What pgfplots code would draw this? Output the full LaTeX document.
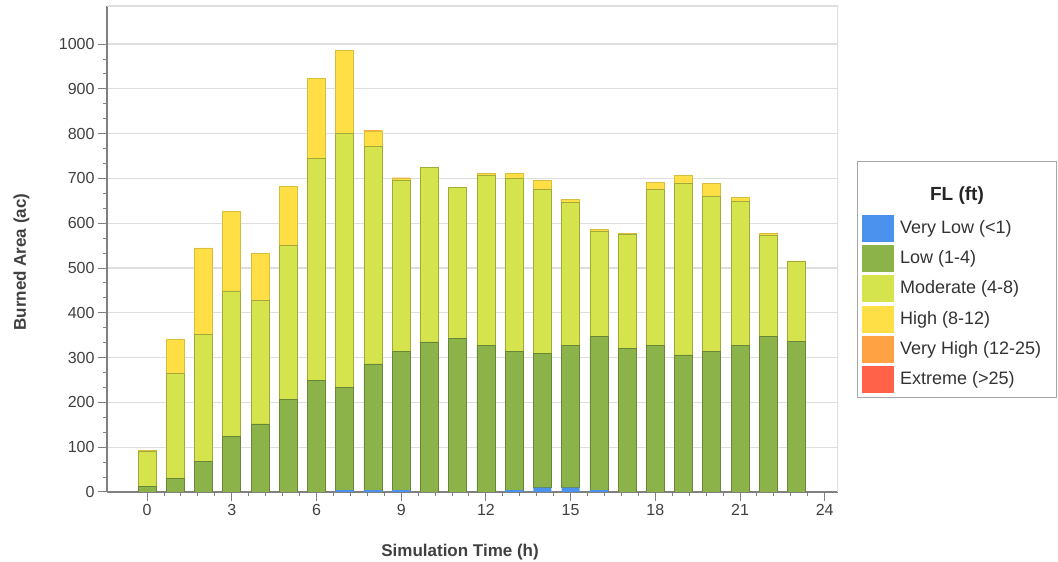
\documentclass[border=0pt]{standalone}
\usepackage{pgfplots}
\usepackage{pgfplotstable}
\pgfplotsset{compat=1.18}
\usepackage{fontspec}
\setmainfont{Liberation Sans}
\definecolor{cVL}{HTML}{4A92EE}
\definecolor{cL}{HTML}{8CB24A}
\definecolor{cM}{HTML}{D5E34C}
\definecolor{cH}{HTML}{FFDF45}
\definecolor{cVH}{HTML}{FFA243}
\definecolor{cEX}{HTML}{FF6248}
\pgfplotstableread{
t VL L M H VH EX
0 0 12 79 2 0 0
1 0 31 234 76 0 0
2 0 69 283 193 0 0
3 0 125 324 178 0 0
4 0 152 275 106 0 0
5 0 207 344 132 0 0
6 0 250 494 180 0 0
7 4 230 566 185 0 0
8 4 282 486 34 2 0
9 4 309 383 4 2 0
10 0 335 390 0 0 0
11 0 343 337 0 0 0
12 0 328 378 5 0 0
13 4 309 388 10 0 0
14 10 300 366 19 0 0
15 10 318 319 7 0 0
16 4 343 236 4 0 0
17 0 321 254 3 0 0
18 0 328 348 16 0 0
19 0 306 383 18 0 0
20 0 313 348 28 0 0
21 0 328 322 8 0 0
22 0 347 227 4 0 0
23 0 336 178 2 0 0
}\data
\begin{document}
\begin{tikzpicture}[x=1pt,y=1pt]
\path[use as bounding box] (-107,-70) rectangle (951,492);
\begin{axis}[at={(0,0)}, anchor=south west, scale only axis,
  width=731pt, height=486pt,
  xmin=-1.42, xmax=24.47, ymin=0, ymax=1085, enlargelimits=false,
  xtick={0,3,...,24}, minor x tick num=4,
  ytick={0,100,...,1000}, minor y tick num=2,
  axis x line*=bottom, axis y line*=left,
  axis line style={-, black!50, line width=1.2pt},
  tick align=outside, major tick length=9pt, minor tick length=4pt,
  every tick/.style={black!50, line width=1pt},
  ymajorgrids, grid style={black!13, line width=1.2pt},
  ticklabel style={font=\fontsize{16}{19}\selectfont, text=black!75},
  /pgf/number format/assume math mode=true,
  /pgf/number format/set thousands separator={},
  xlabel={\textbf{Simulation Time (h)}},
  ylabel={\textbf{Burned Area (ac)}},
  xlabel style={font=\fontsize{17}{20}\selectfont, text=black!75, at={(axis description cs:0.483,-0.124)}, anchor=center},
  ylabel style={font=\fontsize{17}{20}\selectfont, text=black!75, at={(axis description cs:-0.117,0.473)}, anchor=center},
  ybar stacked, bar width=18pt,
]
\addplot[fill=cVL, draw=none] table[x=t, y=VL] {\data};
\addplot[fill=cL, draw=cL!75!black, line width=0.6pt] table[x=t, y=L] {\data};
\addplot[fill=cM, draw=cM!75!black, line width=0.6pt] table[x=t, y=M] {\data};
\addplot[fill=cH, draw=cH!85!black, line width=0.6pt] table[x=t, y=H] {\data};
\addplot[fill=cVH, draw=none] table[x=t, y=VH] {\data};
\addplot[fill=cEX, draw=none] table[x=t, y=EX] {\data};
\draw[black!13, line width=1.2pt] (rel axis cs:0,1) -- (rel axis cs:1,1) -- (rel axis cs:1,0);
\end{axis}
% legend
\draw[black!35, line width=1pt, fill=white] (750,94) rectangle (949,330);
\node[font=\bfseries\fontsize{19}{22}\selectfont, text=black!85] at (850,296) {FL (ft)};
\fill[cVL] (755,250) rectangle (787,277);
\fill[cL]  (755,220) rectangle (787,247);
\fill[cM]  (755,190) rectangle (787,217);
\fill[cH]  (755,159) rectangle (787,186);
\fill[cVH] (755,129) rectangle (787,156);
\fill[cEX] (755,99) rectangle (787,126);
\begin{scope}[every node/.style={anchor=west, font=\fontsize{18}{21}\selectfont, text=black!80, inner sep=0pt}]
\node at (793,263.5) {Very Low (<1)};
\node at (793,233.5) {Low (1-4)};
\node at (793,203.5) {Moderate (4-8)};
\node at (793,172.5) {High (8-12)};
\node at (793,142.5) {Very High (12-25)};
\node at (793,112.5) {Extreme (>25)};
\end{scope}
\end{tikzpicture}
\end{document}
